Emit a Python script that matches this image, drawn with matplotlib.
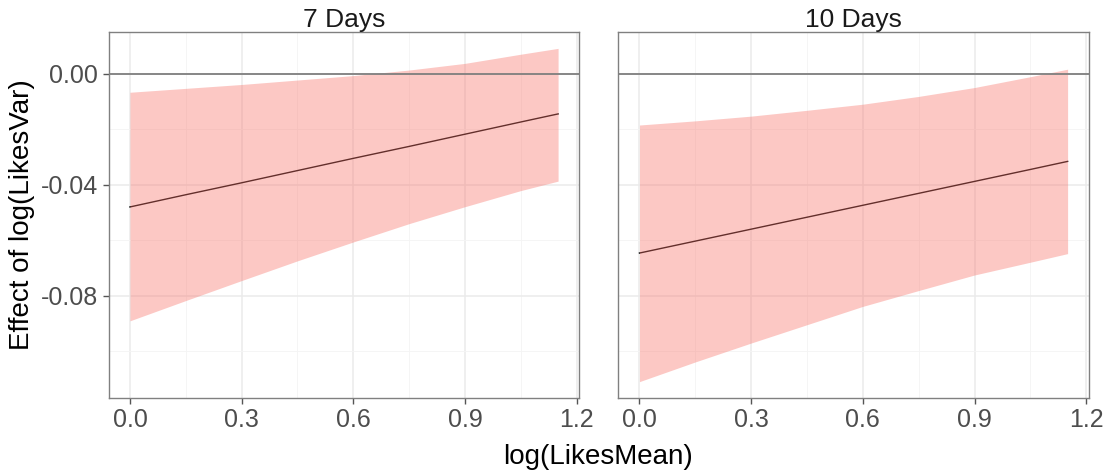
import matplotlib
matplotlib.use("Agg")
import matplotlib.pyplot as plt
import numpy as np

# ========================
# DATA
# ========================
panels = ["7 Days", "10 Days"]
log_likes_mean = [0.0, 0.15, 0.30, 0.45, 0.60, 0.75, 0.90, 1.05, 1.15]

fit_7 = [-0.0480, -0.0436, -0.0393, -0.0349, -0.0305, -0.0262, -0.0218, -0.0174, -0.0145]
upper_7 = [-0.0067, -0.0053, -0.0039, -0.0023, -0.0007, 0.0013, 0.0037, 0.0070, 0.0091]
lower_7 = [-0.0890, -0.0817, -0.0745, -0.0674, -0.0606, -0.0540, -0.0479, -0.0421, -0.0387]

fit_10 = [-0.0646, -0.0603, -0.0560, -0.0517, -0.0474, -0.0431, -0.0388, -0.0345, -0.0316]
upper_10 = [-0.0185, -0.0170, -0.0153, -0.0132, -0.0110, -0.0082, -0.0050, -0.0011, 0.0016]
lower_10 = [-0.1109, -0.1038, -0.0970, -0.0904, -0.0838, -0.0781, -0.0725, -0.0679, -0.0648]

x_ticks = [0.0, 0.3, 0.6, 0.9, 1.2]
x_minor = [0.15, 0.45, 0.75, 1.05]
y_ticks = [0.00, -0.04, -0.08]
y_minor = [-0.02, -0.06, -0.10]

series = [(fit_7, upper_7, lower_7), (fit_10, upper_10, lower_10)]

plt.rcParams["font.family"] = ["Liberation Sans", "DejaVu Sans"]

fig = plt.figure(figsize=(11.11, 4.74), dpi=100)
ax_l = fig.add_axes([0.0977, 0.1597, 0.4239, 0.7734])
ax_r = fig.add_axes([0.5563, 0.1597, 0.4239, 0.7734], sharey=ax_l)

x = np.array(log_likes_mean)
all_y = np.array(upper_7 + lower_7 + upper_10 + lower_10)
ypad = 0.05 * (all_y.max() - all_y.min())
xpad = 0.05 * (x.max() - x.min())

for ax, name, (fit, up, lo) in zip([ax_l, ax_r], panels, series):
    ax.set_facecolor("white")
    # grid like ggplot theme_bw
    for xv in x_ticks:
        ax.axvline(xv, color="#EBEBEB", lw=1.1, zorder=0)
    for xv in x_minor:
        ax.axvline(xv, color="#F4F4F4", lw=0.6, zorder=0)
    for yv in y_ticks:
        ax.axhline(yv, color="#EBEBEB", lw=1.1, zorder=0)
    for yv in y_minor:
        ax.axhline(yv, color="#F4F4F4", lw=0.6, zorder=0)

    ax.plot(x, fit, color="black", lw=1.0, zorder=2)
    ax.fill_between(x, lo, up, color="#F8766D", alpha=0.4, lw=0, zorder=3)
    ax.axhline(0, color="#7F7F7F", lw=1.3, zorder=4)

    ax.set_xlim(x.min() - xpad, x.max() + xpad)
    ax.set_ylim(all_y.min() - ypad, all_y.max() + ypad)
    ax.set_xticks(x_ticks)
    ax.set_xticklabels([f"{v:.1f}" for v in x_ticks])
    ax.set_yticks(y_ticks)
    ax.set_yticklabels([f"{v:.2f}" for v in y_ticks])

    for sp in ax.spines.values():
        sp.set_color("#808080")
        sp.set_linewidth(1.0)
    ax.tick_params(axis="both", colors="#555555", labelcolor="#4D4D4D",
                   labelsize=18, length=4, width=1)
    ax.tick_params(axis="x", pad=3)
    ax.set_title(name, fontsize=19, color="#1A1A1A", pad=2)

ax_r.tick_params(axis="y", left=False, labelleft=False)

fig.text(0.5387, 0.008, "log(LikesMean)", ha="center", va="bottom", fontsize=20)
fig.text(0.008, 0.5464, "Effect of log(LikesVar)", ha="left", va="center",
         rotation=90, fontsize=20)

fig.savefig("out.png", dpi=100)
